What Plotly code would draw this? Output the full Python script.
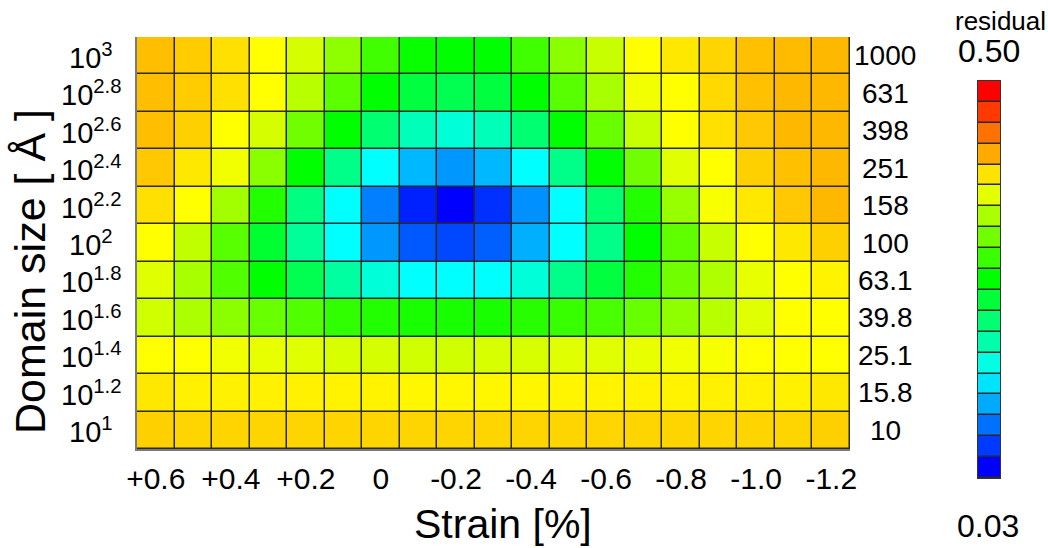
import numpy as np
import plotly.graph_objects as go

# ---------------- data ----------------
strain = [0.6, 0.5, 0.4, 0.3, 0.2, 0.1, 0.0, -0.1, -0.2, -0.3, -0.4,
          -0.5, -0.6, -0.7, -0.8, -0.9, -1.0, -1.1, -1.2]
strain_tickvals = [0.6, 0.4, 0.2, 0.0, -0.2, -0.4, -0.6, -0.8, -1.0, -1.2]
strain_ticktext = ["+0.6", "+0.4", "+0.2", "0", "-0.2", "-0.4", "-0.6",
                   "-0.8", "-1.0", "-1.2"]

# log10 of domain size (Å), listed top row to bottom row
size_exp = [3.0, 2.8, 2.6, 2.4, 2.2, 2.0, 1.8, 1.6, 1.4, 1.2, 1.0]
size_left_labels = ["10<sup>3</sup>", "10<sup>2.8</sup>", "10<sup>2.6</sup>",
                    "10<sup>2.4</sup>", "10<sup>2.2</sup>", "10<sup>2</sup>",
                    "10<sup>1.8</sup>", "10<sup>1.6</sup>", "10<sup>1.4</sup>",
                    "10<sup>1.2</sup>", "10<sup>1</sup>"]
size_right_labels = ["1000", "631", "398", "251", "158", "100", "63.1",
                     "39.8", "25.1", "15.8", "10"]

# residual values, one row per domain size (top row first), one column per strain
res_1000 = [.412, .406, .397, .3825, .363, .331, .2945, .268, .265, .265, .2945,
            .328, .357, .3825, .393, .402, .4115, .414, .415]
res_631 = [.412, .406, .397, .3825, .350, .307, .265, .236, .228, .236, .265,
           .3055, .342, .376, .3825, .400, .4115, .415, .415]
res_398 = [.412, .404, .3825, .363, .317, .265, .213, .180, .1655, .180, .213,
           .265, .313, .357, .3825, .397, .408, .415, .415]
res_251 = [.408, .393, .376, .328, .265, .202, .1475, .115, .100, .115, .1475,
           .202, .265, .317, .368, .3825, .404, .4115, .415]
res_158 = [.397, .3825, .339, .280, .206, .1475, .089, .045, .030, .052, .0965,
           .1475, .213, .280, .335, .379, .393, .408, .415]
res_100 = [.3825, .3535, .3055, .243, .195, .1475, .100, .0705, .063, .074, .111,
           .1475, .202, .265, .309, .357, .3825, .393, .404]
res_63 = [.368, .342, .302, .265, .228, .191, .1655, .1475, .1475, .1475, .1655,
          .202, .236, .280, .317, .346, .372, .3825, .388]
res_40 = [.361, .344, .329, .313, .302, .287, .280, .276, .276, .276, .283,
          .291, .298, .313, .331, .350, .368, .3825, .3825]
res_25 = [.3825, .3825, .376, .372, .368, .3645, .363, .361, .361, .3645, .3645,
          .368, .368, .372, .376, .379, .3825, .3825, .3825]
res_16 = [.393, .389, .389, .389, .389, .388, .388, .386, .386, .386, .386,
          .387, .388, .388, .388, .389, .389, .389, .393]
res_10 = [.404, .402, .402, .402, .402, .402, .402, .402, .402, .402, .402,
          .402, .402, .402, .402, .402, .402, .402, .404]
residual = [res_1000, res_631, res_398, res_251, res_158, res_100, res_63,
            res_40, res_25, res_16, res_10]

# colour bar: 19 discrete levels from 0.03 to 0.50
cbar_min, cbar_max, n_levels = 0.03, 0.50, 19
cbar_levels = np.linspace(cbar_min, cbar_max, n_levels)
cbar_min_label, cbar_max_label = "0.03", "0.50"

# ---------------- style ----------------
FONT = "Arial, 'Liberation Sans', sans-serif"
colorscale = [[0.0, "#0000FF"], [0.25, "#00FFFF"], [0.5, "#00FF00"],
              [0.75, "#FFFF00"], [1.0, "#FF0000"]]

W, H = 1048, 548
ML, MR, MT, MB = 137, 48, 37, 70
PW, PH = W - ML - MR, H - MT - MB


def px_x(x):
    return (x - ML) / PW


def px_y(y):
    return (H - MB - y) / PH


main_x = [0, px_x(850)]
main_y = [px_y(449), 1]
cb_x = [px_x(978), 1]
cb_y = [0, px_y(81)]

fig = go.Figure()
fig.add_trace(go.Heatmap(
    x=strain, y=size_exp[::-1], z=residual[::-1],
    colorscale=colorscale, zmin=cbar_min, zmax=cbar_max,
    xgap=1.5, ygap=1.5, showscale=False, hoverinfo="x+y+z",
    xaxis="x", yaxis="y"))
fig.add_trace(go.Heatmap(
    x=[0], y=list(range(n_levels)), z=[[v] for v in cbar_levels],
    colorscale=colorscale, zmin=cbar_min, zmax=cbar_max,
    xgap=0, ygap=1.5, showscale=False, hoverinfo="z",
    xaxis="x2", yaxis="y2"))

annotations = []
for e, lab in zip(size_exp, size_left_labels):
    annotations.append(dict(x=px_x(91), xref="paper", y=e, yref="y", text=lab,
                            showarrow=False, xanchor="center", yanchor="middle",
                            font=dict(family=FONT, size=29, color="black")))
for e, lab in zip(size_exp, size_right_labels):
    annotations.append(dict(x=px_x(885), xref="paper", y=e, yref="y", text=lab,
                            showarrow=False, xanchor="center", yanchor="middle",
                            font=dict(family=FONT, size=28, color="black")))
annotations += [
    dict(x=px_x(30), xref="paper", y=px_y(272), yref="paper",
         text="Domain size [ Å ]", textangle=-90, showarrow=False,
         xanchor="center", yanchor="middle",
         font=dict(family=FONT, size=43, color="black")),
    dict(x=px_x(503), xref="paper", y=px_y(524), yref="paper",
         text="Strain [%]", showarrow=False, xanchor="center", yanchor="middle",
         font=dict(family=FONT, size=41, color="black")),
    dict(x=px_x(1000), xref="paper", y=px_y(21), yref="paper",
         text="residual", showarrow=False, xanchor="center", yanchor="middle",
         font=dict(family=FONT, size=26, color="black")),
    dict(x=px_x(989), xref="paper", y=px_y(51), yref="paper",
         text=cbar_max_label, showarrow=False, xanchor="center", yanchor="middle",
         font=dict(family=FONT, size=32, color="black")),
    dict(x=px_x(988), xref="paper", y=px_y(526), yref="paper",
         text=cbar_min_label, showarrow=False, xanchor="center", yanchor="middle",
         font=dict(family=FONT, size=32, color="black")),
]

fig.update_layout(
    width=W, height=H,
    margin=dict(l=ML, r=MR, t=MT, b=MB, pad=0),
    paper_bgcolor="white", plot_bgcolor="#2a2a2a",
    font=dict(family=FONT, color="black"),
    showlegend=False,
    xaxis=dict(domain=main_x, anchor="y", range=[0.65, -1.25],
               tickvals=strain_tickvals, ticktext=strain_ticktext,
               ticks="", showgrid=False, zeroline=False,
               showline=True, linecolor="#7a7a7a", linewidth=2,
               tickfont=dict(family=FONT, size=30, color="black"),
               ticklabelstandoff=2),
    yaxis=dict(domain=main_y, anchor="x", range=[0.9, 3.1],
               showticklabels=False, ticks="", showgrid=False, zeroline=False,
               showline=True, linecolor="#7a7a7a", linewidth=2),
    xaxis2=dict(domain=cb_x, anchor="y2", range=[-0.5, 0.5],
                showticklabels=False, ticks="", showgrid=False, zeroline=False,
                showline=True, mirror=True, linecolor="#333333", linewidth=1),
    yaxis2=dict(domain=cb_y, anchor="x2", range=[-0.5, n_levels - 0.5],
                showticklabels=False, ticks="", showgrid=False, zeroline=False,
                showline=True, mirror=True, linecolor="#333333", linewidth=1),
    annotations=annotations,
)

fig.write_html("out.html")
